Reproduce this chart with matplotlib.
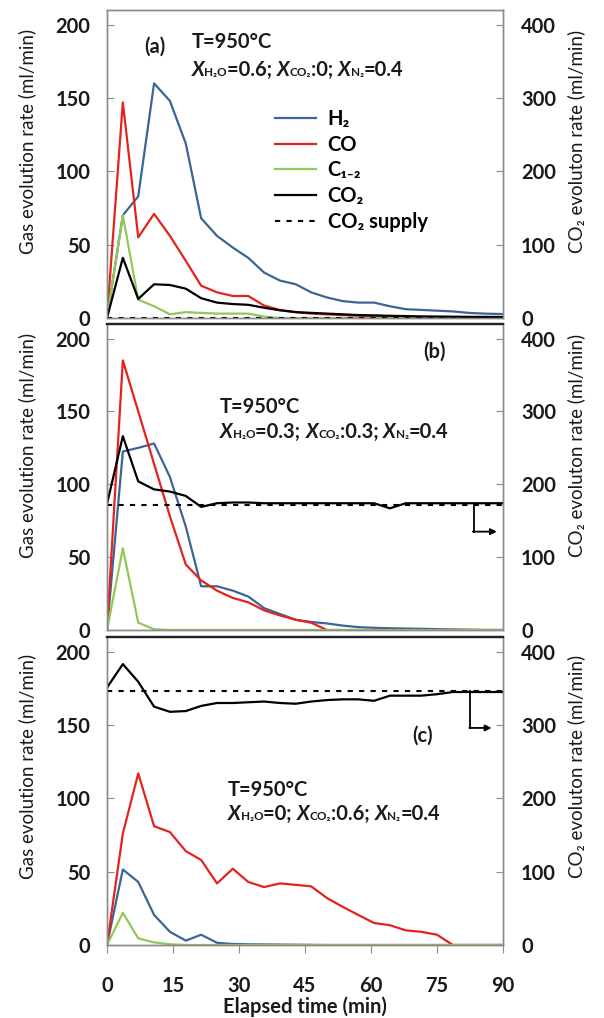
import numpy as np
import matplotlib
matplotlib.use('Agg')
import matplotlib.pyplot as plt
from matplotlib.offsetbox import TextArea, HPacker, AnnotationBbox

plt.rcParams['font.family'] = ['Lato', 'DejaVu Sans']

# elapsed time (min)
t = [0, 3.6, 7.1, 10.7, 14.3, 17.9, 21.4, 25.0, 28.6, 32.1, 35.7, 39.3, 42.9,
     46.4, 50.0, 53.6, 57.1, 60.7, 64.3, 67.9, 71.4, 75.0, 78.6, 82.1, 85.7, 90.0]

# panel (a): XH2O=0.6, XCO2=0
h2_a = [0, 70, 83, 160, 148, 119, 68, 56, 48, 41, 31, 25.5, 23, 17.5, 14, 11.5,
        10.5, 10.5, 8, 6, 5.5, 5, 4.5, 3.5, 3, 2.7]
co_a = [0, 147, 55, 71, 56, 39, 22, 17.5, 15, 15, 8.5, 5.5, 4, 3, 2.5, 2, 1.5,
        1, 0.8, 0.5, 0.3, 0, 0, 0, 0, 0]
c12_a = [0, 70, 12.5, 8, 2.5, 4, 3.5, 3, 3, 3, 1, 0, 0, 0, 0, 0, 0, 0, 0, 0, 0,
         0, 0, 0, 0, 0]
co2_a = [0, 82, 26, 46, 45, 40, 27, 21, 19, 18, 14, 10.5, 8, 7, 6, 5, 4, 3.6, 3,
         2.6, 2.2, 2, 1.8, 1.6, 1.5, 1.4]
supply_a = 0

# panel (b): XH2O=0.3, XCO2=0.3
h2_b = [0, 122.5, 125, 128, 105, 71, 30, 30, 27, 23, 15, 11, 7, 5.5, 4.5, 3, 2,
        1.5, 1.2, 1, 0.8, 0.6, 0.4, 0.2, 0, 0]
co_b = [0, 185, 150, 114, 78, 45, 34, 27, 22, 19, 13.5, 10, 7, 5, 0, 0, 0, 0, 0,
        0, 0, 0, 0, 0, 0, 0]
c12_b = [0, 56, 5, 0.5, 0, 0, 0, 0, 0, 0, 0, 0, 0, 0, 0, 0, 0, 0, 0, 0, 0, 0, 0,
         0, 0, 0]
co2_b = [173, 266, 204, 193, 190, 184, 169, 174, 175, 175, 174, 174, 174, 174,
         174, 174, 174, 174, 167, 174, 174, 174, 174, 174, 174, 174]
supply_b = 172

# panel (c): XH2O=0, XCO2=0.6
h2_c = [0, 51.5, 43, 20.5, 9, 3, 7, 1.5, 0.7, 0.5, 0.4, 0.3, 0.2, 0.1, 0, 0, 0,
        0, 0, 0, 0, 0, 0, 0, 0, 0]
co_c = [0, 76, 117, 81, 77, 64, 58, 42, 52, 43, 39.5, 42, 41, 40, 32, 26, 20.5,
        15, 13.5, 10, 9, 7, 0, 0, 0, 0]
c12_c = [0, 22, 4.5, 1.8, 0.5, 0, 0, 0, 0, 0, 0, 0, 0, 0, 0, 0, 0, 0, 0, 0, 0, 0,
         0, 0, 0, 0]
co2_c = [351, 383, 359, 325, 318, 319, 326, 330, 330, 331, 332, 330, 329, 332,
         334, 335, 335, 333, 340, 340, 340, 342, 345, 345, 345, 345]
supply_c = 346

fractions = [('0.6', '0', '0.4'), ('0.3', '0.3', '0.4'), ('0', '0.6', '0.4')]
panel_tags = ['(a)', '(b)', '(c)']

c_blue = '#3c6595'
c_red = '#e3231c'
c_green = '#92c85a'
c_spine = '#8c8c8c'
c_text = '#1a1a1a'

fs = 14.5

fig = plt.figure(figsize=(6.04, 10.18), dpi=100)

W, H = 604.0, 1018.0
panels_px = [(10, 318), (324, 630), (637, 945)]
label_center = [141, 445, 766]


def comp_text(ax, x, y, vals):
    big = dict(size=fs, weight='bold', color=c_text)
    big_it = dict(size=fs, weight='bold', style='italic', color=c_text)
    small = dict(size=8.5, weight='bold', color=c_text)
    parts = [('X', big_it), ('H\u2082O', small), ('=' + vals[0] + '; ', big),
             ('X', big_it), ('CO\u2082', small), (':' + vals[1] + '; ', big),
             ('X', big_it), ('N\u2082', small), ('=' + vals[2], big)]
    box = HPacker(children=[TextArea(s, textprops=p) for s, p in parts],
                  align='baseline', pad=0, sep=0)
    ab = AnnotationBbox(box, (x, y), xycoords='data', box_alignment=(0, 0.5),
                        frameon=False, pad=0)
    ax.add_artist(ab)


series = [(h2_a, co_a, c12_a, co2_a, supply_a),
          (h2_b, co_b, c12_b, co2_b, supply_b),
          (h2_c, co_c, c12_c, co2_c, supply_c)]

# label positions (data coords of left axis)
tag_pos = [(10.9, 185), (74.5, 191), (71.8, 142.5)]
temp_pos = [(19.2, 188), (25.7, 153), (27.5, 106)]
frac_pos = [(19.2, 169), (25.7, 136), (27.5, 89)]
# arrows pointing to right axis: (x0, y_top, y_bottom, x1)
arrows = [None, (83.3, 172, 135, 88.6), (82.5, 346, 296, 87.4)]

for i, (top, bot) in enumerate(panels_px):
    ax = fig.add_axes([107 / W, 1 - bot / H, 396 / W, (bot - top) / H])
    ax2 = ax.twinx()
    h2, co, c12, co2, sup = series[i]

    l1, = ax.plot(t, h2, color=c_blue, lw=1.6, label='H\u2082')
    l2, = ax.plot(t, co, color=c_red, lw=1.6, label='CO')
    l3, = ax.plot(t, c12, color=c_green, lw=1.6, label='C\u2081\u208b\u2082')
    l5, = ax2.plot(t, np.full(len(t), sup), color='black', lw=1.5,
                   linestyle=(0, (2.5, 3)), label='CO\u2082 supply')
    l4, = ax2.plot(t, co2, color='black', lw=1.6, label='CO\u2082')

    ax.set_xlim(0, 90)
    ax.set_ylim(0, 210)
    ax2.set_ylim(0, 420)
    ax.set_yticks([0, 50, 100, 150, 200])
    ax2.set_yticks([0, 100, 200, 300, 400])
    ax.set_xticks([0, 15, 30, 45, 60, 75, 90])

    for a in (ax, ax2):
        for s in a.spines.values():
            s.set_color(c_spine)
            s.set_linewidth(1.0)
        if i > 0:
            a.spines['top'].set_color('#222222')
            a.spines['top'].set_linewidth(1.6)

    ax.tick_params(axis='y', direction='in', length=5, color=c_spine,
                   labelsize=fs, pad=12, labelcolor=c_text)
    ax2.tick_params(axis='y', direction='in', length=5, color=c_spine,
                    labelsize=fs, pad=13, labelcolor=c_text)
    for lab in ax.get_yticklabels() + ax2.get_yticklabels():
        lab.set_fontweight('bold')

    if i < 2:
        ax.tick_params(axis='x', length=0, labelbottom=False)
    else:
        ax.tick_params(axis='x', direction='out', length=6, color=c_spine,
                       labelsize=fs, pad=16, labelcolor=c_text)
        for lab in ax.get_xticklabels():
            lab.set_fontweight('bold')

    ax.text(tag_pos[i][0], tag_pos[i][1], panel_tags[i], fontsize=fs,
            fontweight='bold', ha='center', va='center', color=c_text)
    ax.text(temp_pos[i][0], temp_pos[i][1], 'T=950\u00b0C', fontsize=fs,
            fontweight='bold', ha='left', va='center', color=c_text)
    comp_text(ax, frac_pos[i][0], frac_pos[i][1], fractions[i])

    if arrows[i] is not None:
        x0, y_top, y_bot, x1 = arrows[i]
        ax2.plot([x0, x0], [y_top, y_bot], color='black', lw=1.3)
        ax2.annotate('', xy=(x1, y_bot), xytext=(x0 - 0.15, y_bot),
                     arrowprops=dict(arrowstyle='-|>', color='black', lw=1.3,
                                     mutation_scale=9, shrinkA=0, shrinkB=0))

    if i == 0:
        ax2.legend([l1, l2, l3, l4, l5],
                   [l.get_label() for l in (l1, l2, l3, l4, l5)],
                   loc='upper left', bbox_to_anchor=(0.425, 0.678),
                   frameon=False, borderpad=0, borderaxespad=0,
                   handlelength=2.0, handletextpad=0.6, labelspacing=0.28,
                   prop=dict(size=fs, weight='bold'))

    fig.text(27 / W, 1 - label_center[i] / H, 'Gas evolution rate (ml/min)',
             rotation=90, ha='center', va='center', fontsize=13.5, color=c_text)
    fig.text(576 / W, 1 - label_center[i] / H, 'CO\u2082 evoluton rate (ml/min)',
             rotation=90, ha='center', va='center', fontsize=13.5, color=c_text)

fig.text(305 / W, 1 - 1007 / H, 'Elapsed time (min)', ha='center', va='center',
         fontsize=fs, fontweight='bold', color=c_text)

fig.savefig('out.png', dpi=100, facecolor='white')
